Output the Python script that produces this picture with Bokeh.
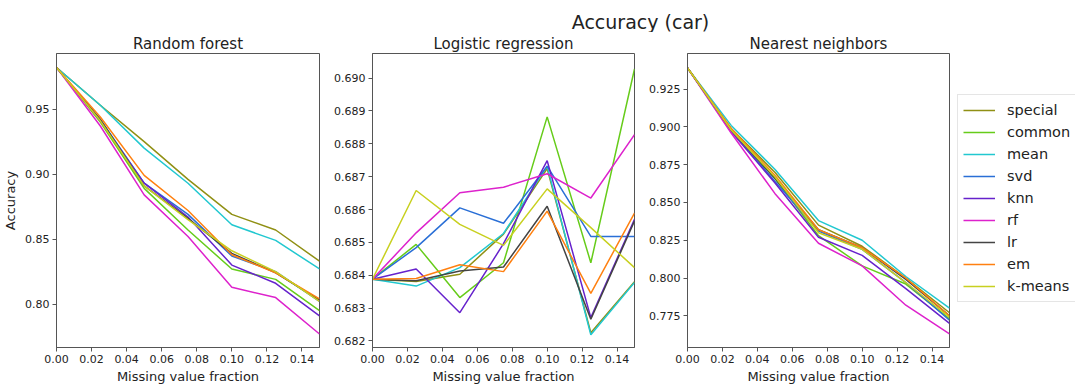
from bokeh.plotting import figure
from bokeh.layouts import column, row
from bokeh.models import FixedTicker, PrintfTickFormatter, Range1d, Legend, LegendItem
from bokeh.embed import file_html
from bokeh.resources import INLINE
from bokeh.core.properties import value

FONT = "DejaVu Sans"
TEXT = "#222222"

# ---------------- data ----------------
fractions = [0.0, 0.025, 0.05, 0.075, 0.1, 0.125, 0.15]
methods = ["special", "common", "mean", "svd", "knn", "rf", "lr", "em", "k-means"]
colors = ["#909014", "#66cc1a", "#22c8d0", "#2a6fd6", "#6622cc", "#dd22cc", "#444444", "#ff8010", "#c8d020"]

x_ticks = [0.00, 0.02, 0.04, 0.06, 0.08, 0.10, 0.12, 0.14]
rf_yticks = [0.80, 0.85, 0.90, 0.95]
lr_yticks = [0.682, 0.683, 0.684, 0.685, 0.686, 0.687, 0.688, 0.689, 0.690]
nn_yticks = [0.775, 0.800, 0.825, 0.850, 0.875, 0.900, 0.925]

# rows follow the order of `methods`
random_forest = [
    [0.982, 0.953, 0.925, 0.896, 0.869, 0.857, 0.833],
    [0.982, 0.940, 0.889, 0.857, 0.827, 0.819, 0.795],
    [0.982, 0.953, 0.920, 0.893, 0.861, 0.849, 0.827],
    [0.982, 0.942, 0.893, 0.869, 0.837, 0.825, 0.802],
    [0.982, 0.941, 0.893, 0.867, 0.830, 0.816, 0.791],
    [0.982, 0.937, 0.884, 0.852, 0.813, 0.805, 0.777],
    [0.982, 0.942, 0.891, 0.866, 0.839, 0.824, 0.803],
    [0.982, 0.944, 0.899, 0.872, 0.838, 0.824, 0.804],
    [0.982, 0.941, 0.891, 0.865, 0.841, 0.825, 0.802],
]
logistic_regression = [
    [0.68388, 0.68381, 0.68403, 0.68525, 0.68725, 0.68225, 0.68380],
    [0.68388, 0.68494, 0.68332, 0.68438, 0.68882, 0.68438, 0.69028],
    [0.68388, 0.68367, 0.68423, 0.68527, 0.68732, 0.68219, 0.68378],
    [0.68388, 0.68484, 0.68605, 0.68558, 0.68732, 0.68518, 0.68518],
    [0.68388, 0.68419, 0.68286, 0.68496, 0.68749, 0.68271, 0.68570],
    [0.68388, 0.68529, 0.68651, 0.68668, 0.68709, 0.68635, 0.68828],
    [0.68388, 0.68383, 0.68413, 0.68425, 0.68610, 0.68266, 0.68565],
    [0.68388, 0.68390, 0.68432, 0.68411, 0.68595, 0.68345, 0.68589],
    [0.68388, 0.68658, 0.68555, 0.68491, 0.68663, 0.68545, 0.68423],
]
nearest_neighbors = [
    [0.939, 0.899, 0.870, 0.835, 0.821, 0.800, 0.777],
    [0.939, 0.898, 0.866, 0.828, 0.808, 0.796, 0.773],
    [0.939, 0.901, 0.872, 0.838, 0.825, 0.801, 0.780],
    [0.939, 0.898, 0.864, 0.831, 0.819, 0.797, 0.772],
    [0.939, 0.897, 0.863, 0.827, 0.815, 0.793, 0.770],
    [0.939, 0.896, 0.856, 0.823, 0.808, 0.782, 0.763],
    [0.939, 0.898, 0.866, 0.832, 0.820, 0.799, 0.775],
    [0.939, 0.899, 0.868, 0.832, 0.820, 0.800, 0.775],
    [0.939, 0.898, 0.867, 0.830, 0.819, 0.797, 0.774],
]

HEADER_H = 32
ROW_H = 354
BORDER_TOP = 21
BORDER_BOTTOM = 39


def make_panel(title, data, yrange, yticks, yfmt, width, left_border, right_border, ylabel=None):
    p = figure(width=width, height=ROW_H, x_range=Range1d(0, 0.15), y_range=Range1d(*yrange),
               output_backend="svg", toolbar_location=None,
               min_border_left=left_border, min_border_right=right_border,
               min_border_top=BORDER_TOP, min_border_bottom=BORDER_BOTTOM)
    p.title.text = title
    p.title.align = "center"
    p.title.text_font = FONT
    p.title.text_font_size = "15px"
    p.title.text_font_style = "normal"
    p.title.text_color = TEXT
    p.title.standoff = 1
    p.xgrid.visible = False
    p.ygrid.visible = False
    p.outline_line_color = "#555555"
    p.outline_line_width = 1
    p.background_fill_color = "white"
    p.border_fill_color = "white"

    p.xaxis.ticker = FixedTicker(ticks=x_ticks)
    p.xaxis.formatter = PrintfTickFormatter(format="%.2f")
    p.yaxis.ticker = FixedTicker(ticks=yticks)
    p.yaxis.formatter = PrintfTickFormatter(format=yfmt)
    for ax in (p.xaxis, p.yaxis):
        ax.major_tick_in = 0
        ax.major_tick_out = 4
        ax.minor_tick_in = 0
        ax.minor_tick_out = 0
        ax.axis_line_color = "#555555"
        ax.major_tick_line_color = "#555555"
        ax.major_label_text_font = FONT
        ax.major_label_text_font_size = "11px"
        ax.major_label_text_color = TEXT
        ax.axis_label_text_font = FONT
        ax.axis_label_text_font_size = "13px"
        ax.axis_label_text_font_style = "normal"
        ax.axis_label_text_color = TEXT
    p.xaxis.major_label_standoff = 3
    p.xaxis.axis_label_standoff = 3
    p.yaxis.major_label_standoff = 3
    p.yaxis.axis_label_standoff = 4
    p.xaxis.axis_label = "Missing value fraction"
    if ylabel:
        p.yaxis.axis_label = ylabel

    for name, color, ys in zip(methods, colors, data):
        p.line(fractions, ys, line_color=color, line_width=1.5)
    return p


p1 = make_panel("Random forest", random_forest, (0.7666, 0.9928), rf_yticks, "%.2f", 324, 56, 5, "Accuracy")
p2 = make_panel("Logistic regression", logistic_regression, (0.6818, 0.69075), lr_yticks, "%.3f", 315, 48, 5)
p3 = make_panel("Nearest neighbors", nearest_neighbors, (0.754, 0.9486), nn_yticks, "%.3f", 315, 48, 5)

# legend panel: its key renderers hold the series but sit outside the visible range,
# so only the legend box shows
lf = figure(width=121, height=ROW_H, x_range=Range1d(10, 11), y_range=Range1d(10, 11),
            output_backend="svg", toolbar_location=None,
            min_border_left=0, min_border_right=0,
            min_border_top=BORDER_TOP, min_border_bottom=BORDER_BOTTOM,
            x_axis_type=None, y_axis_type=None)
lf.outline_line_color = None
lf.xgrid.visible = False
lf.ygrid.visible = False
keys = [lf.line(fractions, ys, line_color=c, line_width=1.5) for c, ys in zip(colors, nearest_neighbors)]
legend = Legend(items=[LegendItem(label=m, renderers=[r]) for m, r in zip(methods, keys)],
                location=(3, 45), margin=0, padding=5, spacing=2,
                glyph_width=32, glyph_height=20, label_height=20, label_standoff=12,
                label_text_font=FONT, label_text_font_size="14.5px", label_text_color=TEXT,
                border_line_color="#cccccc", border_line_width=1,
                background_fill_color="white", background_fill_alpha=1.0)
lf.add_layout(legend)

header = figure(width=1075, height=HEADER_H, x_range=Range1d(0, 1075), y_range=Range1d(0, HEADER_H),
                output_backend="svg", toolbar_location=None, min_border=0,
                x_axis_type=None, y_axis_type=None)
header.outline_line_color = None
header.xgrid.visible = False
header.ygrid.visible = False
header.text(x=[640], y=[11], text=["Accuracy (car)"], text_font=value(FONT),
            text_font_size="19px", text_align="center", text_baseline="middle", text_color=TEXT)

layout = column(header, row(p1, p2, p3, lf, spacing=0), spacing=0)

with open("out.html", "w") as f:
    f.write(file_html(layout, INLINE))
